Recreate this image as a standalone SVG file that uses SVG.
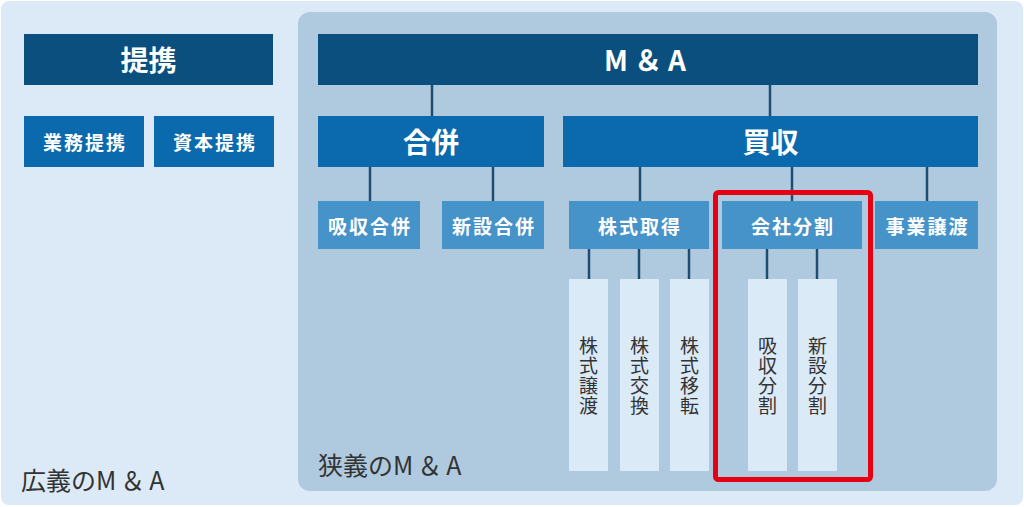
<svg xmlns="http://www.w3.org/2000/svg" width="1024" height="507" viewBox="0 0 1024 507">
<style>
text{font-family:"Noto Sans CJK JP","Noto Sans",sans-serif;text-anchor:middle;dominant-baseline:central}
.w{fill:#ffffff;font-weight:700}
.big{font-size:28px}
.mid{font-size:19px;letter-spacing:2px}
.navy{fill:#0b4f7e}
.blue{fill:#0a6aad}
.lb{fill:#4593c9}
.pale{fill:#dbeaf7}
.v{fill:#333333;font-size:19px;writing-mode:vertical-rl;letter-spacing:1px}
.cap{fill:#333333;font-size:25px;text-anchor:start;dominant-baseline:auto}
.cap tspan{letter-spacing:4px}
.con line{stroke:#1d4d70;stroke-width:2.5}
</style>
<rect x="0" y="0" width="1024" height="507" fill="#ffffff"/>
<rect x="1" y="1" width="1022" height="504" rx="8" fill="#dce9f6"/>
<rect id="narrow-panel" x="298" y="12" width="699" height="479" rx="12" fill="#afcade"/>

<g class="con" id="connectors">
<line x1="432" y1="85" x2="432" y2="116"/>
<line x1="770" y1="85" x2="770" y2="116"/>
<line x1="370" y1="167" x2="370" y2="201"/>
<line x1="493" y1="167" x2="493" y2="201"/>
<line x1="640" y1="167" x2="640" y2="201"/>
<line x1="792" y1="167" x2="792" y2="201"/>
<line x1="927" y1="167" x2="927" y2="201"/>
<line x1="589" y1="249" x2="589" y2="279"/>
<line x1="639" y1="249" x2="639" y2="279"/>
<line x1="689" y1="249" x2="689" y2="279"/>
<line x1="767" y1="249" x2="767" y2="279"/>
<line x1="817" y1="249" x2="817" y2="279"/>
</g>

<g id="teikei"><rect class="navy" x="24" y="34" width="249" height="51"/><text class="w big" x="148.5" y="59">提携</text></g>
<g id="gyomu"><rect class="blue" x="24" y="116" width="120" height="51"/><text class="w mid" x="85" y="141">業務提携</text></g>
<g id="shihon"><rect class="blue" x="154" y="116" width="120" height="51"/><text class="w mid" x="215" y="141">資本提携</text></g>

<g id="ma"><rect class="navy" x="318" y="34" width="660" height="51"/><text class="w big" x="648" y="59" letter-spacing="6">M＆A</text></g>
<g id="gappei"><rect class="blue" x="318" y="116" width="226" height="51"/><text class="w big" x="431" y="141">合併</text></g>
<g id="baishu"><rect class="blue" x="563" y="116" width="415" height="51"/><text class="w big" x="770.5" y="141">買収</text></g>

<g id="kyushu-gappei"><rect class="lb" x="318" y="201" width="102" height="48"/><text class="w mid" x="370" y="225">吸収合併</text></g>
<g id="shinsetsu-gappei"><rect class="lb" x="442" y="201" width="102" height="48"/><text class="w mid" x="494" y="225">新設合併</text></g>
<g id="kabushiki-shutoku"><rect class="lb" x="569" y="201" width="140" height="48"/><text class="w mid" x="640" y="225">株式取得</text></g>
<g id="kaisha-bunkatsu"><rect class="lb" x="722" y="201" width="140" height="48"/><text class="w mid" x="793" y="225">会社分割</text></g>
<g id="jigyo-joto"><rect class="lb" x="875" y="201" width="103" height="48"/><text class="w mid" x="927.5" y="225">事業譲渡</text></g>

<g id="kabushiki-joto"><rect class="pale" x="569" y="279" width="39" height="192"/><text class="v" x="588.5" y="376">株式譲渡</text></g>
<g id="kabushiki-kokan"><rect class="pale" x="620" y="279" width="39" height="192"/><text class="v" x="639.5" y="376">株式交換</text></g>
<g id="kabushiki-iten"><rect class="pale" x="670" y="279" width="39" height="192"/><text class="v" x="689.5" y="376">株式移転</text></g>
<g id="kyushu-bunkatsu"><rect class="pale" x="748" y="279" width="39" height="192"/><text class="v" x="767.5" y="376">吸収分割</text></g>
<g id="shinsetsu-bunkatsu"><rect class="pale" x="798" y="279" width="39" height="192"/><text class="v" x="817.5" y="376">新設分割</text></g>

<rect id="highlight" x="715.5" y="192.5" width="155" height="287" rx="3" fill="none" stroke="#e60012" stroke-width="5"/>

<text class="cap" x="21" y="490">広義の<tspan>M＆A</tspan></text>
<text class="cap" x="318" y="475">狭義の<tspan>M＆A</tspan></text>
</svg>
